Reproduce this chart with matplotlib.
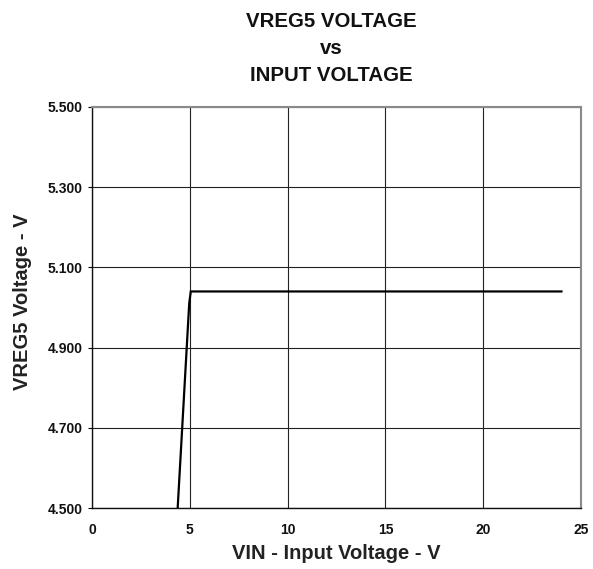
import matplotlib
matplotlib.use("Agg")
import matplotlib.pyplot as plt

vin = [4.38, 4.97, 5.05, 24.0]
vreg5 = [4.50, 5.01, 5.04, 5.04]
x_ticks = [0, 5, 10, 15, 20, 25]
y_ticks = [4.5, 4.7, 4.9, 5.1, 5.3, 5.5]
y_tick_labels = ["4.500", "4.700", "4.900", "5.100", "5.300", "5.500"]
title_lines = ["VREG5 VOLTAGE", "vs", "INPUT VOLTAGE"]
x_label = "VIN - Input Voltage - V"
y_label = "VREG5 Voltage - V"

W, H = 593, 569
plt.rcParams['font.family'] = ['Liberation Sans', 'DejaVu Sans']
fig = plt.figure(figsize=(W / 100, H / 100), dpi=100)
ax = fig.add_axes([92 / W, (H - 508) / H, 489 / W, 401 / H])
ax.plot(vin, vreg5, color='black', lw=1.6, solid_joinstyle='miter')
ax.set_xlim(0, 25)
ax.set_ylim(4.5, 5.5)
ax.set_xticks(x_ticks)
ax.set_yticks(y_ticks)
ax.set_yticklabels(y_tick_labels)
ax.grid(True, color='#222222', lw=0.8)
ax.set_axisbelow(True)
for side in ('left', 'bottom'):
    ax.spines[side].set_color('#111111')
    ax.spines[side].set_linewidth(1.0)
for side in ('top', 'right'):
    ax.spines[side].set_color('#8a8a8a')
    ax.spines[side].set_linewidth(1.5)
ax.tick_params(axis='x', length=0, pad=10.5, labelsize=10)
ax.tick_params(axis='y', length=3, width=0.8, pad=3.8, labelsize=10)
for lab in ax.get_xticklabels() + ax.get_yticklabels():
    lab.set_fontweight('bold')
    lab.set_color('#111111')

fig.text(336 / W, (H - 559.3) / H, x_label, ha='center', va='baseline',
         fontsize=14.5, fontweight='bold', color='#222222')
fig.text(22.5 / W, (H - 302) / H, y_label, ha='center', va='center', rotation=90,
         fontsize=14.5, fontweight='bold', color='#222222')
for line, base in zip(title_lines, [27.3, 54.0, 81.0]):
    fig.text(331 / W, (H - base) / H, line, ha='center', va='baseline',
             fontsize=14.7, fontweight='bold', color='#111111')
fig.savefig('out.png', dpi=100)
